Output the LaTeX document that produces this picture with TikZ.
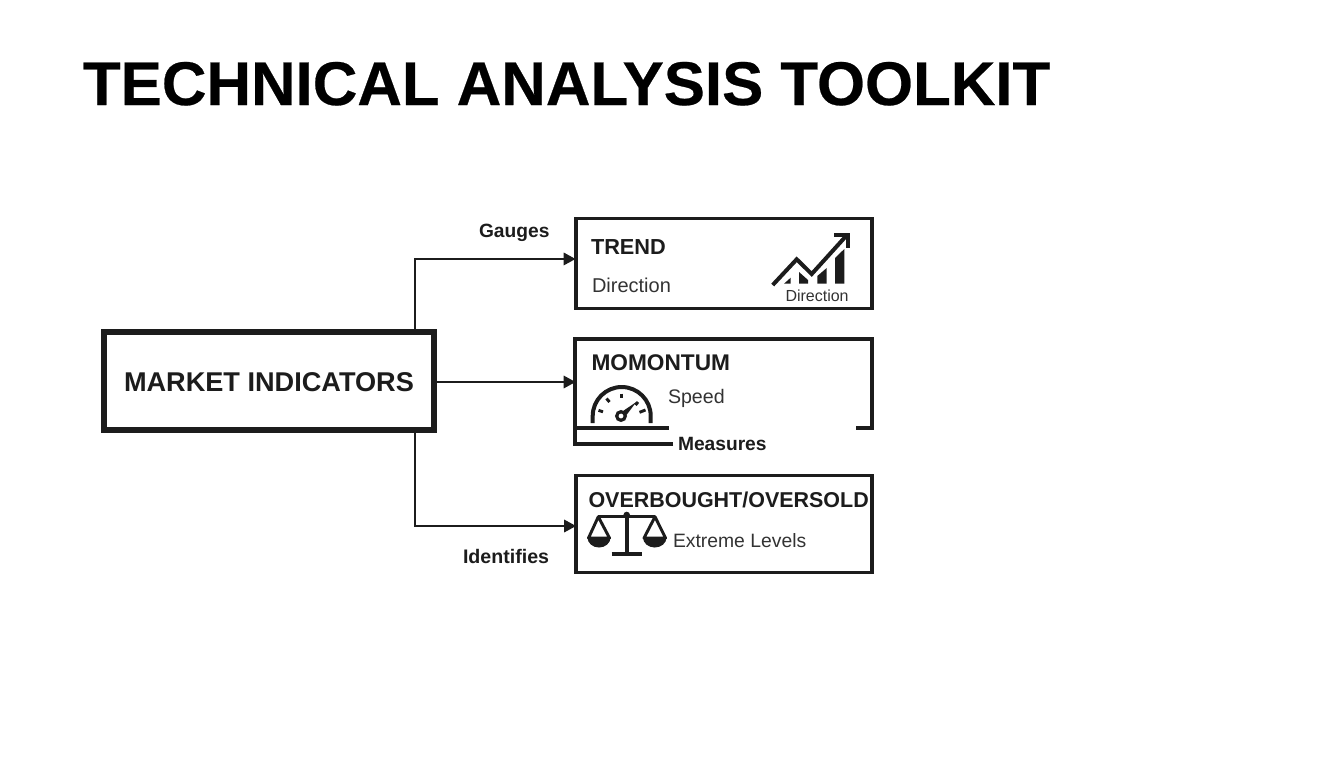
\documentclass[tikz,border=0pt]{standalone}
\usepackage{fontspec}
\setmainfont{Liberation Sans}
\newfontfamily\titlefont[FakeBold=0.4]{Liberation Sans Bold}
\usetikzlibrary{arrows.meta}
\definecolor{ink}{HTML}{1C1C1C}
\definecolor{soft}{HTML}{333333}
\tikzset{
  x=0.75pt,y=-0.75pt,
  every node/.style={inner sep=0pt,outer sep=0pt},
  lbl/.style={anchor=base west,text=ink},
  boxed/.style={draw=ink,line width=2.7pt,rectangle,minimum height=#1},
  link/.style={draw=ink,line width=2.2pt,-{Triangle[length=9pt,width=9pt]}},
  ico/.style={draw=ink,line width=2.6pt},
  h22/.style={font=\bfseries\fontsize{16.3}{18}\selectfont},
  t20/.style={font=\fontsize{15}{18}\selectfont,text=soft},
}
\begin{document}
\begin{tikzpicture}
\path[fill=white,use as bounding box] (0,0) rectangle (1344,768);

\node[lbl,font=\titlefont\fontsize{46.3}{50}\selectfont,text=black] (title) at (83,105) {TECHNICAL ANALYSIS TOOLKIT};

% boxes
\node[draw=ink,line width=4.5pt,minimum width=247.5pt,minimum height=73.5pt] (market) at (269,381) {};
\node[lbl,font=\bfseries\fontsize{20.35}{24}\selectfont] (markettext) at (124,391) {MARKET INDICATORS};

\node[boxed=67.5pt,minimum width=222pt] (trend) at (723.7,263.5) {};
\node[rectangle,minimum width=222pt,minimum height=64.5pt] (momentum) at (723.7,382) {};
\node[boxed=73pt,minimum width=222pt] (over) at (724.2,524) {};

% open border of the momentum box
\draw[draw=ink,line width=2.7pt,line join=miter]
  (673,444) -- (575,444) -- (575,339) -- (872,339) -- (872,428) -- (856,428);
\draw[draw=ink,line width=2.7pt] (575,428) -- (669,428);

% connectors
\draw[link] ([xshift=109.5pt]market.north) |- ([yshift=3.4pt]trend.west);
\draw[link] ([yshift=-0.75pt]market.east) -- (momentum.west);
\draw[link] ([xshift=109.5pt]market.south) |- ([yshift=-1.5pt]over.west);

% connector labels
\node[lbl,font=\bfseries\fontsize{14.4}{18}\selectfont] (gauges) at (479,237) {Gauges};
\node[lbl,font=\bfseries\fontsize{14.4}{18}\selectfont] (measures) at (678,450) {Measures};
\node[lbl,font=\bfseries\fontsize{14.7}{18}\selectfont] (identifies) at (463,563) {Identifies};

% texts in the boxes
\node[lbl,h22] (trendtitle) at (591,254) {TREND};
\node[lbl,t20] (trenddir) at (592,292) {Direction};
\node[lbl,font=\fontsize{12}{14}\selectfont,text=soft] (trendsmall) at (785.5,301.7) {Direction};
\node[lbl,font=\bfseries\fontsize{17}{18}\selectfont] (momtitle) at (591.5,370) {MOMONTUM};
\node[lbl,font=\fontsize{14.7}{18}\selectfont,text=soft] (speed) at (668,403.3) {Speed};
\node[lbl,font=\bfseries\fontsize{16.1}{18}\selectfont] (overtitle) at (588.5,507.7) {OVERBOUGHT/OVERSOLD};
\node[lbl,font=\fontsize{14.5}{18}\selectfont,text=soft] (extreme) at (673,547.3) {Extreme Levels};

% trend icon
\fill[ink] (784,283.7) -- (790.7,277.7) -- (790.7,283.7) -- cycle;
\fill[ink] (799,283.7) -- (799,272) -- (808,280) -- (808,283.7) -- cycle;
\fill[ink] (817.3,283.7) -- (817.3,276) -- (826.7,268) -- (826.7,283.7) -- cycle;
\fill[ink] (835,283.7) -- (835,258) -- (844.3,249) -- (844.3,283.7) -- cycle;
\draw[ico,line width=3pt,line join=miter] (772.7,285) -- (796.7,259.3) -- (811.7,274) -- (847,235);
\draw[ico,line width=3pt,line join=miter] (834,234.5) -- (848,234.5) -- (848,248);

% gauge icon
\draw[ico,line width=3pt] (592.7,423) -- (592.7,416) arc[start angle=180,end angle=360,radius=29] -- (650.7,423);
\draw[ico,line width=2.2pt] (621.7,393.5) -- (621.7,398);
\draw[ico,line width=2.2pt] (606.5,398.5) -- (609.5,402);
\draw[ico,line width=2.2pt] (598.5,410.3) -- (603,411.8);
\draw[ico,line width=2.2pt] (638,402) -- (635.5,405);
\draw[ico,line width=2.2pt] (639.5,412.3) -- (645.5,410);
\draw[ico,line width=2.4pt] (621,416) circle[radius=4.3];
\fill[ink] (623,411) -- (636.3,402) -- (626.5,415) -- cycle;

% scales icon
\draw[ico,line width=3pt] (626.7,515) -- (626.7,554.3);
\draw[ico,line width=3pt] (611.7,554.3) -- (641.7,554.3);
\draw[ico,line width=2.4pt] (598.3,516.7) -- (655,516.7);
\fill[ink] (626.7,515) circle[radius=3.3];
\draw[ico,line width=2.2pt,line join=round] (588.5,538) -- (598.3,516.7) -- (609.5,538) -- cycle;
\draw[ico,line width=2.2pt,line join=round] (644,538) -- (655,516.7) -- (665.5,538) -- cycle;
\fill[ink] (587.5,537.5) arc[start angle=180,end angle=0,x radius=11.5,y radius=10] -- cycle;
\fill[ink] (643,537.5) arc[start angle=180,end angle=0,x radius=11.75,y radius=10] -- cycle;
\end{tikzpicture}
\end{document}
